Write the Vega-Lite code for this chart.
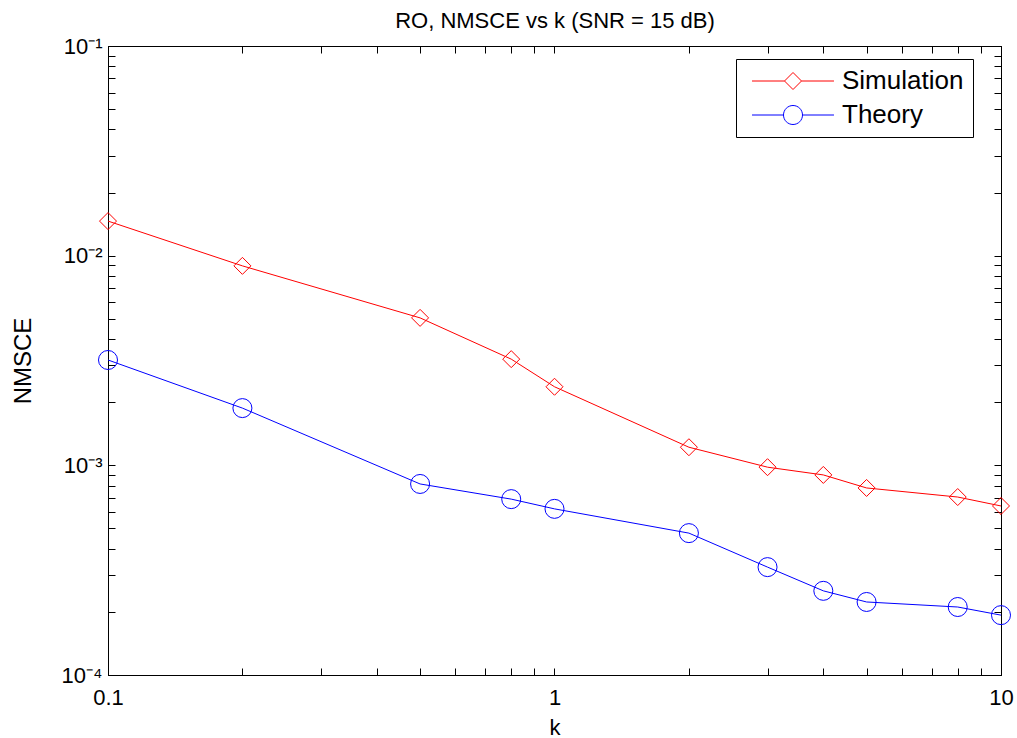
{
  "$schema": "https://vega.github.io/schema/vega-lite/v6.json",
  "width": 893,
  "height": 629,
  "autosize": {"type": "none"},
  "padding": {"left": 108, "top": 46, "right": 16, "bottom": 63},
  "background": "white",
  "config": {
    "font": "Liberation Sans",
    "view": {"stroke": "black", "strokeWidth": 1},
    "legend": {
      "orient": "none",
      "legendX": 628,
      "legendY": 13,
      "padding": 9,
      "rowPadding": 8,
      "strokeColor": "black",
      "fillColor": "white",
      "cornerRadius": 0,
      "symbolSize": 289,
      "symbolStrokeWidth": 1,
      "symbolFillColor": "transparent",
      "symbolOffset": 35,
      "labelOffset": 36,
      "labelFontSize": 26,
      "labelFont": "Liberation Sans",
      "labelColor": "black"
    }
  },
  "data": {
    "values": [
      {"series": "Simulation", "k": 0.1, "v": 0.01462},
      {"series": "Simulation", "k": 0.2, "v": 0.00894},
      {"series": "Simulation", "k": 0.5, "v": 0.00505},
      {"series": "Simulation", "k": 0.8, "v": 0.00321},
      {"series": "Simulation", "k": 1, "v": 0.00237},
      {"series": "Simulation", "k": 2, "v": 0.00122},
      {"series": "Simulation", "k": 3, "v": 0.00098},
      {"series": "Simulation", "k": 4, "v": 0.0009},
      {"series": "Simulation", "k": 5, "v": 0.00078},
      {"series": "Simulation", "k": 8, "v": 0.000706},
      {"series": "Simulation", "k": 10, "v": 0.00064},
      {"series": "Theory", "k": 0.1, "v": 0.00318},
      {"series": "Theory", "k": 0.2, "v": 0.001875},
      {"series": "Theory", "k": 0.5, "v": 0.000815},
      {"series": "Theory", "k": 0.8, "v": 0.00069},
      {"series": "Theory", "k": 1, "v": 0.00062},
      {"series": "Theory", "k": 2, "v": 0.000475},
      {"series": "Theory", "k": 3, "v": 0.000327},
      {"series": "Theory", "k": 4, "v": 0.000252},
      {"series": "Theory", "k": 5, "v": 0.000223},
      {"series": "Theory", "k": 8, "v": 0.000211},
      {"series": "Theory", "k": 10, "v": 0.000193}
    ]
  },
  "layer": [
    {
      "transform": [{"filter": "datum.series == 'Simulation'"}],
      "mark": {"type": "line", "color": "#ff0000", "strokeWidth": 1},
      "encoding": {
        "x": {
          "field": "k", "type": "quantitative",
          "scale": {"type": "log", "domain": [0.1, 10], "nice": false},
          "axis": {
            "orient": "bottom",
            "title": "k",
            "titleFontSize": 22,
            "titleFontWeight": "normal",
            "titleColor": "black",
            "titlePadding": 9,
            "values": [0.1, 0.2, 0.3, 0.4, 0.5, 0.6, 0.7, 0.8, 0.9, 1, 2, 3, 4, 5, 6, 7, 8, 9, 10],
            "labelExpr": "datum.value == 0.1 ? '0.1' : datum.value == 1 ? '1' : datum.value == 10 ? '10' : ''",
            "labelFontSize": 22,
            "labelColor": "black",
            "labelPadding": 19,
            "labelFlush": false,
            "labelOverlap": false,
            "tickSize": -7,
            "tickColor": "black",
            "domainColor": "black",
            "grid": false
          }
        },
        "y": {
          "field": "v", "type": "quantitative",
          "scale": {"type": "log", "domain": [0.0001, 0.1], "nice": false},
          "axis": {
            "orient": "left",
            "title": "NMSCE",
            "titleFontSize": 24,
            "titleFontWeight": "normal",
            "titleColor": "black",
            "titlePadding": 26,
            "values": [0.0001, 0.0002, 0.0003, 0.0004, 0.0005, 0.0006, 0.0007, 0.0008, 0.0009, 0.001, 0.002, 0.003, 0.004, 0.005, 0.006, 0.007, 0.008, 0.009, 0.01, 0.02, 0.03, 0.04, 0.05, 0.06, 0.07, 0.08, 0.09, 0.1],
            "labelExpr": "datum.value >= 0.099 ? '10⁻¹' : (datum.value >= 0.0099 && datum.value <= 0.0101) ? '10⁻²' : (datum.value >= 0.00099 && datum.value <= 0.00101) ? '10⁻³' : (datum.value <= 0.000101) ? '10⁻⁴' : ''",
            "labelFontSize": 22,
            "labelColor": "black",
            "labelPadding": 13,
            "labelFlush": false,
            "labelOverlap": false,
            "tickSize": -7,
            "tickColor": "black",
            "domainColor": "black",
            "grid": false
          }
        }
      }
    },
    {
      "transform": [{"filter": "datum.series == 'Simulation'"}],
      "mark": {"type": "point", "shape": "diamond", "filled": false, "stroke": "#ff0000", "strokeWidth": 1, "size": 289, "opacity": 1},
      "encoding": {
        "x": {
          "field": "k", "type": "quantitative",
          "axis": {
            "orient": "top",
            "title": "RO, NMSCE vs k (SNR = 15 dB)",
            "titleFontSize": 22,
            "titleFontWeight": "normal",
            "titleColor": "black",
            "titleFont": "Liberation Sans",
            "titleBaseline": "alphabetic",
            "titlePadding": 18,
            "labels": false,
            "values": [0.1, 0.2, 0.3, 0.4, 0.5, 0.6, 0.7, 0.8, 0.9, 1, 2, 3, 4, 5, 6, 7, 8, 9, 10],
            "tickSize": -7,
            "tickColor": "black",
            "domainColor": "black",
            "grid": false
          }
        },
        "y": {
          "field": "v", "type": "quantitative",
          "axis": {
            "orient": "right",
            "title": null,
            "labels": false,
            "values": [0.0001, 0.0002, 0.0003, 0.0004, 0.0005, 0.0006, 0.0007, 0.0008, 0.0009, 0.001, 0.002, 0.003, 0.004, 0.005, 0.006, 0.007, 0.008, 0.009, 0.01, 0.02, 0.03, 0.04, 0.05, 0.06, 0.07, 0.08, 0.09, 0.1],
            "tickSize": -7,
            "tickColor": "black",
            "domainColor": "black",
            "grid": false
          }
        }
      }
    },
    {
      "transform": [{"filter": "datum.series == 'Theory'"}],
      "mark": {"type": "line", "color": "#0000ff", "strokeWidth": 1},
      "encoding": {
        "x": {"field": "k", "type": "quantitative", "axis": null},
        "y": {"field": "v", "type": "quantitative", "axis": null}
      }
    },
    {
      "transform": [{"filter": "datum.series == 'Theory'"}],
      "mark": {"type": "point", "shape": "circle", "filled": false, "stroke": "#0000ff", "strokeWidth": 1, "size": 361, "opacity": 1},
      "encoding": {
        "x": {"field": "k", "type": "quantitative", "axis": null},
        "y": {"field": "v", "type": "quantitative", "axis": null}
      }
    },
    {
      "transform": [{"filter": "datum.k < 0"}],
      "mark": {"type": "point", "filled": false, "strokeWidth": 1, "opacity": 1},
      "encoding": {
        "x": {"field": "k", "type": "quantitative", "axis": null},
        "y": {"field": "v", "type": "quantitative", "axis": null},
        "shape": {
          "field": "series", "type": "nominal",
          "scale": {
            "domain": ["Simulation", "Theory"],
            "range": [
              "M-4.82,0H-1M1,0H4.82M-1,0L0,-1L1,0L0,1Z",
              "M-4.82,0H-1.118M1.118,0H4.82M1.118,0A1.118,1.118,0,1,1,-1.118,0A1.118,1.118,0,1,1,1.118,0Z"
            ]
          },
          "legend": {"title": null}
        },
        "stroke": {
          "field": "series", "type": "nominal",
          "scale": {"domain": ["Simulation", "Theory"], "range": ["#ff0000", "#0000ff"]},
          "legend": {"title": null}
        }
      }
    }
  ]
}
